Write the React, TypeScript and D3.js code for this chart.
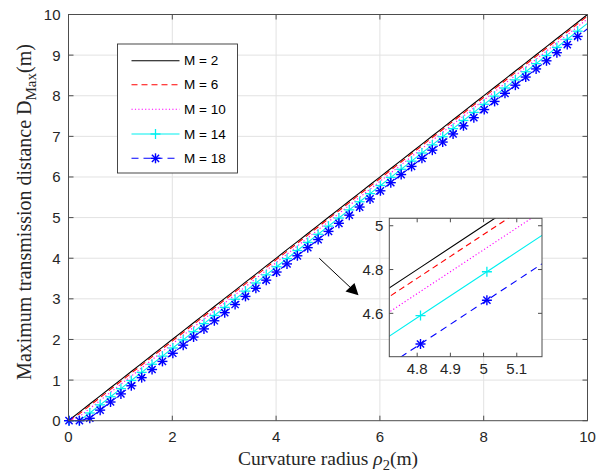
import React from 'react';
import * as d3 from 'd3';

// Curvature radius samples (m)
const RHO = [
  0.01, 0.21, 0.41, 0.61, 0.81, 1.01, 1.21, 1.41, 1.61, 1.81,
  2.01, 2.21, 2.41, 2.61, 2.81, 3.01, 3.21, 3.41, 3.61, 3.81,
  4.01, 4.21, 4.41, 4.61, 4.81, 5.01, 5.21, 5.41, 5.61, 5.81,
  6.01, 6.21, 6.41, 6.61, 6.81, 7.01, 7.21, 7.41, 7.61, 7.81,
  8.01, 8.21, 8.41, 8.61, 8.81, 9.01, 9.21, 9.41, 9.61, 9.81,
  10.0,
];

const D_M2 = [
  0.01, 0.21, 0.41, 0.61, 0.81, 1.01, 1.21, 1.41, 1.61, 1.81,
  2.01, 2.21, 2.41, 2.61, 2.81, 3.01, 3.21, 3.41, 3.61, 3.81,
  4.01, 4.21, 4.41, 4.61, 4.81, 5.01, 5.21, 5.41, 5.61, 5.81,
  6.01, 6.21, 6.41, 6.61, 6.81, 7.01, 7.21, 7.41, 7.61, 7.81,
  8.01, 8.21, 8.41, 8.61, 8.81, 9.01, 9.21, 9.41, 9.61, 9.81,
  10.0,
];

const D_M6 = [
  0.00, 0.17, 0.37, 0.57, 0.77, 0.97, 1.17, 1.37, 1.57, 1.77,
  1.97, 2.17, 2.37, 2.57, 2.77, 2.97, 3.17, 3.37, 3.57, 3.77,
  3.97, 4.17, 4.37, 4.57, 4.77, 4.97, 5.17, 5.37, 5.57, 5.77,
  5.97, 6.17, 6.37, 6.57, 6.77, 6.97, 7.17, 7.37, 7.57, 7.77,
  7.97, 8.17, 8.37, 8.57, 8.77, 8.97, 9.17, 9.37, 9.57, 9.77,
  9.96,
];

const D_M10 = [
  0.00, 0.10, 0.30, 0.50, 0.70, 0.90, 1.10, 1.30, 1.50, 1.70,
  1.90, 2.10, 2.30, 2.50, 2.70, 2.90, 3.10, 3.30, 3.50, 3.70,
  3.90, 4.10, 4.30, 4.50, 4.70, 4.90, 5.10, 5.30, 5.50, 5.70,
  5.90, 6.10, 6.30, 6.50, 6.70, 6.90, 7.10, 7.30, 7.50, 7.70,
  7.90, 8.10, 8.30, 8.50, 8.70, 8.90, 9.10, 9.30, 9.50, 9.70,
  9.89,
];

const D_M14 = [
  0.00, 0.00, 0.19, 0.39, 0.59, 0.79, 0.99, 1.19, 1.39, 1.59,
  1.79, 1.99, 2.19, 2.39, 2.59, 2.79, 2.99, 3.19, 3.39, 3.59,
  3.79, 3.99, 4.19, 4.39, 4.59, 4.79, 4.99, 5.19, 5.39, 5.59,
  5.79, 5.99, 6.19, 6.39, 6.59, 6.79, 6.99, 7.19, 7.39, 7.59,
  7.79, 7.99, 8.19, 8.39, 8.59, 8.79, 8.99, 9.19, 9.39, 9.59,
  9.78,
];

const D_M18 = [
  0.00, 0.00, 0.06, 0.26, 0.46, 0.66, 0.86, 1.06, 1.26, 1.46,
  1.66, 1.86, 2.06, 2.26, 2.46, 2.66, 2.86, 3.06, 3.26, 3.46,
  3.66, 3.86, 4.06, 4.26, 4.46, 4.66, 4.86, 5.06, 5.26, 5.46,
  5.66, 5.86, 6.06, 6.26, 6.46, 6.66, 6.86, 7.06, 7.26, 7.46,
  7.66, 7.86, 8.06, 8.26, 8.46, 8.66, 8.86, 9.06, 9.26, 9.46,
  9.65,
];

const SERIES_NAMES = ['M = 2', 'M = 6', 'M = 10', 'M = 14', 'M = 18'];
const SERIES_VALUES = [D_M2, D_M6, D_M10, D_M14, D_M18];

const X_TICKS = [0, 2, 4, 6, 8, 10];
const Y_TICKS = [0, 1, 2, 3, 4, 5, 6, 7, 8, 9, 10];
const INSET_X_TICKS = [4.8, 4.9, 5, 5.1];
const INSET_Y_TICKS = [4.6, 4.8, 5];
const INSET_X_DOMAIN = [4.716, 5.176];
const INSET_Y_DOMAIN = [4.402, 5.034];

type Style = { color: string; dash: string; marker: '' | '+' | '*'; width: number };
const STYLES: Style[] = [
  { color: '#000000', dash: '', marker: '', width: 1.1 },
  { color: '#ff0000', dash: '6,4', marker: '', width: 1.1 },
  { color: '#ff00ff', dash: '1.2,2.2', marker: '', width: 1.1 },
  { color: '#00f0f0', dash: '', marker: '+', width: 1.1 },
  { color: '#0000ff', dash: '7,5', marker: '*', width: 1.1 },
];

const SANS = 'Arial, "Liberation Sans", Helvetica, sans-serif';
const SERIF = '"Times New Roman", "Liberation Serif", serif';
const AXIS = '#4d4d4d';
const TICKTXT = '#262626';

function Marker({ x, y, kind, color, r }: { x: number; y: number; kind: string; color: string; r: number }) {
  if (kind === '+') {
    return (
      <g stroke={color} strokeWidth={1.3}>
        <line x1={x - r} y1={y} x2={x + r} y2={y} />
        <line x1={x} y1={y - r} x2={x} y2={y + r} />
      </g>
    );
  }
  if (kind === '*') {
    const d = r * 0.72;
    return (
      <g stroke={color} strokeWidth={1.4}>
        <line x1={x - r} y1={y} x2={x + r} y2={y} />
        <line x1={x} y1={y - r} x2={x} y2={y + r} />
        <line x1={x - d} y1={y - d} x2={x + d} y2={y + d} />
        <line x1={x - d} y1={y + d} x2={x + d} y2={y - d} />
      </g>
    );
  }
  return null;
}

export default function App() {
  const W = 598;
  const H = 476;
  const L = 68.5, R = 587.5, T = 14.5, B = 420.7;
  const x = d3.scaleLinear().domain([0, 10]).range([L, R]);
  const y = d3.scaleLinear().domain([0, 10]).range([B, T]);

  const iL = 389.3, iR = 542, iT = 218.3, iB = 356.7;
  const ix = d3.scaleLinear().domain(INSET_X_DOMAIN).range([iL, iR]);
  const iy = d3.scaleLinear().domain(INSET_Y_DOMAIN).range([iB, iT]);

  const mainLine = d3
    .line<number>()
    .x((_, i) => x(RHO[i]))
    .y((v) => y(v));
  const insetLine = d3
    .line<number>()
    .x((_, i) => ix(RHO[i]))
    .y((v) => iy(v));

  const tickLen = 5;
  const insetTick = 4;

  // legend
  const lgL = 117.5, lgT = 44, lgW = 120, lgH = 129;
  const lgRows = [60.7, 84.8, 109.3, 134, 158.3];

  return (
    <div style={{ position: 'absolute', left: 0, top: 0 }}>
      <svg width={W} height={H} style={{ display: 'block', background: '#fff' }}>
        <defs>
          <clipPath id="mainClip">
            <rect x={L} y={T} width={R - L} height={B - T} />
          </clipPath>
          <clipPath id="insetClip">
            <rect x={iL} y={iT} width={iR - iL} height={iB - iT} />
          </clipPath>
        </defs>
        <rect x={0} y={0} width={W} height={H} fill="#fff" />
        {/* grid */}
        <g stroke="#e2e2e2" strokeWidth={1}>
          {X_TICKS.slice(1, -1).map((t) => (
            <line key={'gx' + t} x1={x(t)} x2={x(t)} y1={T} y2={B} />
          ))}
          {Y_TICKS.slice(1, -1).map((t) => (
            <line key={'gy' + t} x1={L} x2={R} y1={y(t)} y2={y(t)} />
          ))}
        </g>
        {/* series */}
        <g clipPath="url(#mainClip)">
          {SERIES_VALUES.map((vals, si) => (
            <path
              key={'s' + si}
              d={mainLine(vals) || ''}
              fill="none"
              stroke={STYLES[si].color}
              strokeWidth={STYLES[si].width}
              strokeDasharray={STYLES[si].dash || undefined}
            />
          ))}
        </g>
        <g>
          {SERIES_VALUES.map((vals, si) =>
            STYLES[si].marker
              ? vals.slice(0, 50).map((v, i) => (
                  <Marker
                    key={'m' + si + '-' + i}
                    x={x(RHO[i])}
                    y={y(v)}
                    kind={STYLES[si].marker}
                    color={STYLES[si].color}
                    r={5}
                  />
                ))
              : null
          )}
        </g>
        {/* axes box */}
        <rect x={L} y={T} width={R - L} height={B - T} fill="none" stroke={AXIS} strokeWidth={1} />
        <g stroke={AXIS} strokeWidth={1}>
          {X_TICKS.map((t) => (
            <g key={'tx' + t}>
              <line x1={x(t)} x2={x(t)} y1={B} y2={B - tickLen} />
              <line x1={x(t)} x2={x(t)} y1={T} y2={T + tickLen} />
            </g>
          ))}
          {Y_TICKS.map((t) => (
            <g key={'ty' + t}>
              <line x1={L} x2={L + tickLen} y1={y(t)} y2={y(t)} />
              <line x1={R} x2={R - tickLen} y1={y(t)} y2={y(t)} />
            </g>
          ))}
        </g>
        <g fontFamily={SANS} fontSize={15} fill={TICKTXT}>
          {X_TICKS.map((t) => (
            <text key={'lx' + t} x={x(t)} y={B + 16} textAnchor="middle" dominantBaseline="central">
              {t}
            </text>
          ))}
          {Y_TICKS.map((t) => (
            <text key={'ly' + t} x={L - 8} y={y(t)} textAnchor="end" dominantBaseline="central">
              {t}
            </text>
          ))}
        </g>
        {/* axis labels */}
        <text
          x={328}
          y={465}
          textAnchor="middle"
          fontFamily={SERIF}
          fontSize={19.5}
          fill="#262626"
        >
          Curvature radius <tspan fontStyle="italic">ρ</tspan>
          <tspan fontSize={14.5} dy={5}>2</tspan>
          <tspan dy={-5}>(m)</tspan>
        </text>
        <text
          transform={`translate(31,212) rotate(-90)`}
          textAnchor="middle"
          fontFamily={SERIF}
          fontSize={20}
          fill="#262626"
        >
          Maximum transmission distance D<tspan fontSize={15} dy={5}>Max</tspan>
          <tspan dy={-5}>(m)</tspan>
        </text>

        {/* legend */}
        <rect x={lgL} y={lgT} width={lgW} height={lgH} fill="#fff" stroke="#333" strokeWidth={0.9} />
        {SERIES_NAMES.map((name, si) => (
          <g key={'lg' + si}>
            <line
              x1={131.5}
              x2={179.5}
              y1={lgRows[si]}
              y2={lgRows[si]}
              stroke={STYLES[si].color}
              strokeWidth={STYLES[si].width}
              strokeDasharray={STYLES[si].dash || undefined}
            />
            {STYLES[si].marker ? (
              <Marker x={155.5} y={lgRows[si]} kind={STYLES[si].marker} color={STYLES[si].color} r={5} />
            ) : null}
            <text x={184} y={lgRows[si]} dominantBaseline="central" fontFamily={SANS} fontSize={13.5} fill="#000">
              {name}
            </text>
          </g>
        ))}

        {/* arrow */}
        <line x1={319.3} y1={258.3} x2={352} y2={289} stroke="#000" strokeWidth={1} />
        <path d="M 358.5 295.2 L 345.5 291.5 L 354.5 283 Z" fill="#000" />

        {/* inset */}
        <rect x={iL} y={iT} width={iR - iL} height={iB - iT} fill="#fff" />
        <g clipPath="url(#insetClip)">
          {SERIES_VALUES.map((vals, si) => (
            <path
              key={'is' + si}
              d={insetLine(vals) || ''}
              fill="none"
              stroke={STYLES[si].color}
              strokeWidth={STYLES[si].width}
              strokeDasharray={STYLES[si].dash || undefined}
            />
          ))}
          {SERIES_VALUES.map((vals, si) =>
            STYLES[si].marker
              ? vals.slice(0, 50).map((v, i) =>
                  RHO[i] >= INSET_X_DOMAIN[0] - 0.05 && RHO[i] <= INSET_X_DOMAIN[1] + 0.05 ? (
                    <Marker
                      key={'im' + si + '-' + i}
                      x={ix(RHO[i])}
                      y={iy(v)}
                      kind={STYLES[si].marker}
                      color={STYLES[si].color}
                      r={5}
                    />
                  ) : null
                )
              : null
          )}
        </g>
        <rect x={iL} y={iT} width={iR - iL} height={iB - iT} fill="none" stroke={AXIS} strokeWidth={1} />
        <g stroke={AXIS} strokeWidth={1}>
          {INSET_X_TICKS.map((t) => (
            <g key={'itx' + t}>
              <line x1={ix(t)} x2={ix(t)} y1={iB} y2={iB - insetTick} />
              <line x1={ix(t)} x2={ix(t)} y1={iT} y2={iT + insetTick} />
            </g>
          ))}
          {INSET_Y_TICKS.map((t) => (
            <g key={'ity' + t}>
              <line x1={iL} x2={iL + insetTick} y1={iy(t)} y2={iy(t)} />
              <line x1={iR} x2={iR - insetTick} y1={iy(t)} y2={iy(t)} />
            </g>
          ))}
        </g>
        <g fontFamily={SANS} fontSize={15} fill={TICKTXT}>
          {INSET_X_TICKS.map((t) => (
            <text key={'ilx' + t} x={ix(t)} y={iB + 12} textAnchor="middle" dominantBaseline="central">
              {t}
            </text>
          ))}
          {INSET_Y_TICKS.map((t) => (
            <text key={'ily' + t} x={iL - 6} y={iy(t)} textAnchor="end" dominantBaseline="central">
              {t}
            </text>
          ))}
        </g>
      </svg>
    </div>
  );
}
